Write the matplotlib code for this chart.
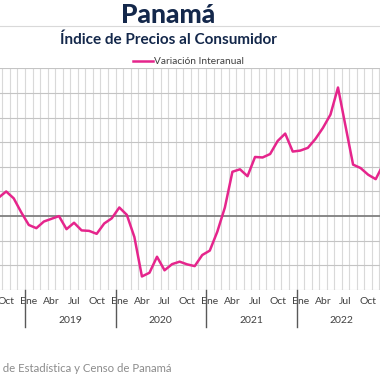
import matplotlib
matplotlib.use("Agg")
import matplotlib.pyplot as plt
import matplotlib.transforms as mtransforms

plt.rcParams['font.family'] = ['Lato', 'DejaVu Sans']

# Variación interanual del IPC, Sep 2018 - Dic 2022 (%)
meses = ['Ene', 'Feb', 'Mar', 'Abr', 'May', 'Jun',
         'Jul', 'Ago', 'Sep', 'Oct', 'Nov', 'Dic']
anios = [2019, 2020, 2021, 2022]
inicio = -4  # Sep 2018 respecto a Ene 2019
variacion = [
    0.75, 1.0, 0.72, 0.15,
    -0.36, -0.49, -0.22, -0.11, 0.0, -0.53, -0.27, -0.58, -0.6, -0.72, -0.3, -0.09,
    0.35, 0.05, -0.85, -2.45, -2.3, -1.65, -2.2, -1.95, -1.85, -1.96, -2.03, -1.58,
    -1.4, -0.63, 0.35, 1.8, 1.9, 1.62, 2.4, 2.38, 2.52, 3.05, 3.35, 2.62,
    2.66, 2.77, 3.13, 3.58, 4.12, 5.22, 3.65, 2.09, 1.95, 1.68, 1.5, 2.1,
]
idx = list(range(inicio, inicio + len(variacion)))

ROSA = '#E5258C'
AZUL = '#14284B'

W = H = 380
fig = plt.figure(figsize=(3.8, 3.8), dpi=100)
ax = fig.add_axes([0, 1 - 290 / H, 1, (290 - 68.3) / H])

ax.set_xlim(-3.82, 46.57)
ax.set_ylim(-3, 6)
for s in ax.spines.values():
    s.set_visible(False)

# rejilla
for b in range(inicio, inicio + len(variacion) + 1):
    ax.axvline(b - 0.5, color='#d9d9d9', lw=0.8, zorder=0)
for y in range(-3, 7):
    if y == 0:
        ax.axhline(y, color='#7f7f7f', lw=1.3, zorder=1)
    else:
        ax.axhline(y, color='#c4c4c4', lw=0.8, zorder=0)

ax.plot(idx, variacion, color=ROSA, lw=1.8, zorder=3,
        solid_joinstyle='round', solid_capstyle='round')

# etiquetas de meses (cada trimestre)
ticks = [i for i in idx if i % 3 == 0]
ax.set_xticks(ticks)
ax.set_xticklabels([meses[i % 12] for i in ticks], fontsize=7.5, color='#404040')
ax.tick_params(axis='x', length=0, pad=5)
ax.set_yticks([])

# separadores y etiquetas de años
trans = mtransforms.blended_transform_factory(ax.transData, ax.transAxes)
for k, a in enumerate(anios):
    b0 = 12 * k - 0.5
    ax.plot([b0, b0], [0, -0.167], color='#595959', lw=1.0,
            transform=trans, clip_on=False)
    ax.text(b0 + 6, -0.138, str(a), transform=trans, ha='center', va='center',
            fontsize=7.5, color='#404040')
ax.plot([47.5, 47.5], [0, -0.167], color='#595959', lw=1.0,
        transform=trans, clip_on=False)

# títulos
fig.text(168 / W, 1 - 23 / H, 'Panamá', ha='center', va='baseline',
         fontsize=19, fontweight='black', color=AZUL)
fig.add_artist(plt.Line2D([0, 1], [1 - 25.5 / H] * 2, color='#d9d9d9', lw=0.8))
fig.text(168 / W, 1 - 44 / H, 'Índice de Precios al Consumidor', ha='center',
         va='baseline', fontsize=11, fontweight='bold', color=AZUL)

# leyenda
fig.add_artist(plt.Line2D([133 / W, 153 / W], [1 - 61 / H] * 2, color=ROSA, lw=1.8))
fig.text(154 / W, 1 - 61 / H, 'Variación Interanual', ha='left', va='center',
         fontsize=7.3, color='#404040')

# fuente
fig.text(172 / W, 1 - 369 / H,
         'Fuente: Instituto Nacional de Estadística y Censo de Panamá',
         ha='right', va='center', fontsize=8.2, color='#8c8c8c')

fig.savefig('out.png', dpi=100)
